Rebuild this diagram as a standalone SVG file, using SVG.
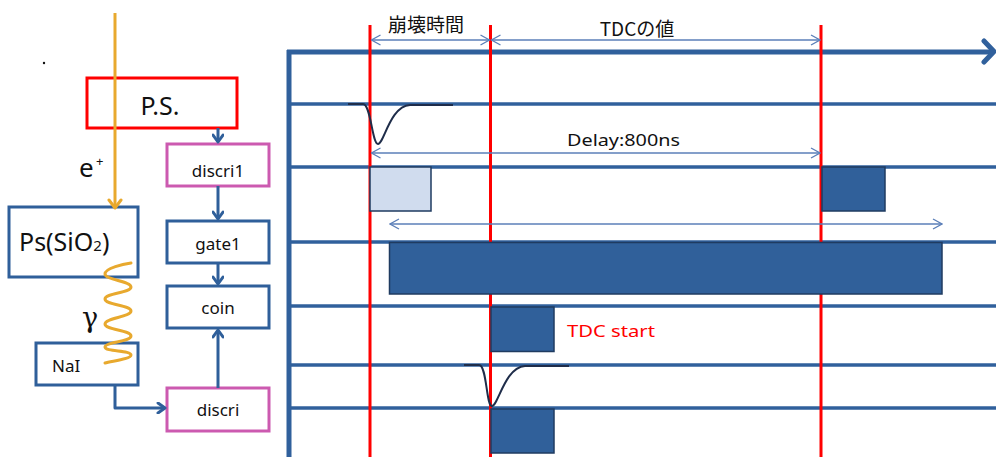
<svg xmlns="http://www.w3.org/2000/svg" width="996" height="457" viewBox="0 0 996 457">
<style>
  .t { font-family: "Noto Sans", "Noto Sans CJK JP", sans-serif; fill: #111; }
  .jp { font-family: "Noto Sans CJK JP", sans-serif; fill: #111; }
  .box { fill: #fff; stroke: #2F5F9A; stroke-width: 3; }
  .mag { fill: #fff; stroke: #CC5AB0; stroke-width: 3; }
  .ps { fill: none; stroke: #FF0000; stroke-width: 3; }
  .con { fill: none; stroke: #2F5F9A; stroke-width: 3; stroke-linejoin: round; }
  .sig { stroke: #30609C; stroke-width: 3.5; fill: none; }
  .red { stroke: #FF0000; stroke-width: 3; }
  .dim { stroke: #5B7FB8; stroke-width: 1.3; fill: none; }
  .blk { fill: #30609A; stroke: #1F3B60; stroke-width: 1.5; }
  .pulse { fill: none; stroke: #1F2D4A; stroke-width: 2; }
</style>
<defs>
  <marker id="ah" markerWidth="12" markerHeight="12" refX="9" refY="6" orient="auto" markerUnits="userSpaceOnUse">
    <path d="M2,1 L9,6 L2,11" fill="none" stroke="#2F5F9A" stroke-width="3" stroke-linecap="round" stroke-linejoin="round"/>
  </marker>
  <marker id="ahO" markerWidth="16" markerHeight="16" refX="10" refY="8" orient="auto" markerUnits="userSpaceOnUse">
    <path d="M2,2 L10,8 L2,14" fill="none" stroke="#E8A92E" stroke-width="3" stroke-linecap="round" stroke-linejoin="round"/>
  </marker>
  <marker id="dm" markerWidth="12" markerHeight="12" refX="11" refY="6" orient="auto-start-reverse" markerUnits="userSpaceOnUse">
    <path d="M2,1 L11,6 L2,11" fill="none" stroke="#5B7FB8" stroke-width="1.3"/>
  </marker>
</defs>
<rect width="996" height="457" fill="#fff"/>

<!-- timing chart -->
<g id="timing">
  <g id="signal-lines">
    <line class="sig" x1="289" y1="104" x2="996" y2="104"/>
    <line class="sig" x1="289" y1="167" x2="996" y2="167"/>
    <line class="sig" x1="289" y1="242" x2="996" y2="242"/>
    <line class="sig" x1="289" y1="306" x2="996" y2="306"/>
    <line class="sig" x1="289" y1="365" x2="996" y2="365"/>
    <line class="sig" x1="289" y1="408" x2="996" y2="408"/>
  </g>
  <g id="axes">
    <line x1="289" y1="50" x2="289" y2="457" stroke="#30609C" stroke-width="5"/>
    <line x1="287" y1="52" x2="993" y2="52" stroke="#30609C" stroke-width="5"/>
    <path d="M984,41 L994,51.5 L984,62" fill="none" stroke="#30609C" stroke-width="5" stroke-linecap="round" stroke-linejoin="round"/>
  </g>
  <g id="red-lines">
    <line class="red" x1="370" y1="25" x2="370" y2="457"/>
    <line class="red" x1="490.5" y1="25" x2="490.5" y2="457"/>
    <line class="red" x1="821" y1="25" x2="821" y2="457"/>
  </g>
  <g id="pulses">
    <path class="pulse" d="M348,104 H363 C371,104 372,144 378,144 C384,144 390,106 410,105 H453"/>
    <path class="pulse" d="M464,365 H479 C487,365 486,406 492,406 C498,406 505,367 525,366 H569"/>
  </g>
  <g id="blocks">
    <rect x="370" y="167" width="61" height="44" fill="#D0DCEE" stroke="#1F3B60" stroke-width="1.5"/>
    <rect class="blk" x="822" y="167" width="63" height="44"/>
    <rect class="blk" x="389.5" y="242.5" width="552.5" height="51.5"/>
    <rect class="blk" x="491" y="307" width="63" height="44.5"/>
    <rect class="blk" x="491" y="409" width="63" height="44"/>
  </g>
  <g id="dimensions">
    <line class="dim" x1="371.5" y1="40" x2="489.5" y2="40" marker-start="url(#dm)" marker-end="url(#dm)"/>
    <line class="dim" x1="491.5" y1="40" x2="820" y2="40" marker-start="url(#dm)" marker-end="url(#dm)"/>
    <line class="dim" x1="371.5" y1="153" x2="820" y2="153" marker-start="url(#dm)" marker-end="url(#dm)"/>
    <line class="dim" x1="390" y1="224" x2="942" y2="224" marker-start="url(#dm)" marker-end="url(#dm)"/>
  </g>
  <g id="labels">
    <text class="jp" x="426" y="32" font-size="19" text-anchor="middle">崩壊時間</text>
    <text class="jp" x="637" y="36" font-size="19" text-anchor="middle">TDCの値</text>
    <text class="t" x="567" y="146" font-size="17" textLength="113" lengthAdjust="spacingAndGlyphs">Delay:800ns</text>
    <text class="t" x="567" y="337" font-size="17" style="fill:#FF0000" textLength="88" lengthAdjust="spacingAndGlyphs">TDC start</text>
  </g>
</g>

<!-- left block diagram -->
<circle cx="44" cy="63" r="1.2" fill="#111"/>

<g id="node-ps">
  <rect class="ps" x="87" y="78" width="150" height="50"/>
  <text class="t" x="160" y="115" font-size="25" text-anchor="middle">P.S.</text>
</g>
<g id="node-discri1">
  <rect class="mag" x="167" y="144" width="102" height="42"/>
  <text class="t" x="218" y="177" font-size="17" text-anchor="middle">discri1</text>
</g>
<g id="node-gate1">
  <rect class="box" x="167" y="221" width="102" height="42"/>
  <text class="t" x="218" y="250" font-size="17" text-anchor="middle">gate1</text>
</g>
<g id="node-coin">
  <rect class="box" x="167" y="286" width="102" height="42"/>
  <text class="t" x="218" y="314" font-size="17" text-anchor="middle">coin</text>
</g>
<g id="node-discri">
  <rect class="mag" x="167" y="388" width="102" height="43"/>
  <text class="t" x="218" y="416" font-size="17" text-anchor="middle">discri</text>
</g>
<g id="node-sio2">
  <rect class="box" x="9" y="207" width="129" height="70"/>
  <text class="t" x="19" y="251" font-size="25">Ps(SiO<tspan font-size="15">2</tspan>)</text>
</g>
<g id="node-nai">
  <rect class="box" x="36" y="343" width="102" height="42"/>
  <text class="t" x="52" y="372" font-size="17">NaI</text>
</g>

<g id="connectors">
  <line class="con" x1="218" y1="128" x2="218" y2="142" marker-end="url(#ah)"/>
  <line class="con" x1="218" y1="186" x2="218" y2="219" marker-end="url(#ah)"/>
  <line class="con" x1="218" y1="263" x2="218" y2="284" marker-end="url(#ah)"/>
  <line class="con" x1="218" y1="388" x2="218" y2="330" marker-end="url(#ah)"/>
  <path class="con" d="M115,385 V408 H165" marker-end="url(#ah)"/>
  <line x1="115" y1="13" x2="115" y2="208" stroke="#E8A92E" stroke-width="3" marker-end="url(#ahO)"/>
  <path d="M131,263 C124,264 105,268 105,274 C105,280 131,281 131,287 C131,293 105,293 105,299 C105,305 131,305 131,311 C131,317 105,318 105,324 C105,330 131,330 131,336 C131,342 105,342 105,347 C105,352 131,350 131,355 C131,359 112,361 105,363" fill="none" stroke="#E8A92E" stroke-width="3" stroke-linecap="round"/>
</g>

<g id="particle-labels">
  <text class="t" x="79" y="177" font-size="26">e</text>
  <text class="t" x="96" y="166" font-size="13">+</text>
  <text x="82" y="327" font-size="27" font-family="DejaVu Serif, serif" fill="#111">γ</text>
</g>
</svg>
